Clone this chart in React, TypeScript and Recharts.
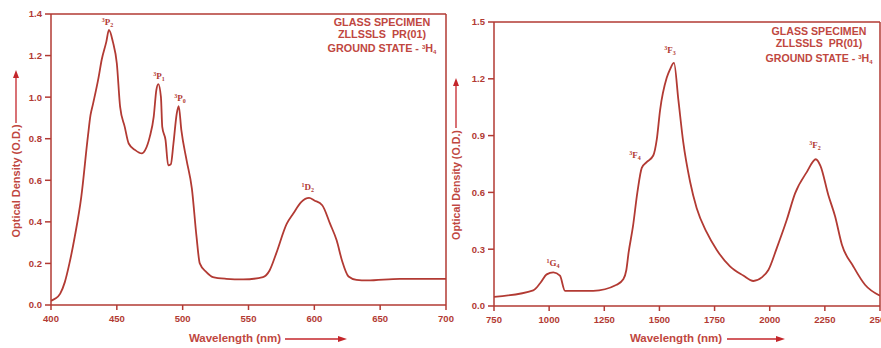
import React from 'react';
import { LineChart, Line, XAxis, YAxis, ReferenceLine, ReferenceDot } from 'recharts';

// visible region spectrum (nm, O.D.)
const visWavelength = [400, 403, 407, 410.5, 414, 418, 423, 428, 430, 432, 436, 438.5, 442, 444, 447, 450, 452.5, 456, 459, 464, 469, 471.5, 475, 478, 480, 481.5, 483.5, 484.5, 487, 489, 491, 493, 495.5, 497, 499, 503, 507, 510.5, 513, 518, 523, 533, 546, 561, 566, 571, 579, 584, 590, 596, 600, 606, 612, 617, 621, 626, 632, 640, 665, 700];
const visDensity = [0.02, 0.03, 0.055, 0.11, 0.2, 0.327, 0.52, 0.81, 0.913, 0.97, 1.09, 1.18, 1.266, 1.323, 1.266, 1.162, 0.953, 0.857, 0.777, 0.745, 0.729, 0.745, 0.809, 0.905, 1.034, 1.063, 1.0, 0.857, 0.793, 0.672, 0.677, 0.777, 0.921, 0.957, 0.841, 0.696, 0.56, 0.33, 0.2, 0.158, 0.134, 0.126, 0.123, 0.134, 0.166, 0.247, 0.39, 0.44, 0.495, 0.515, 0.503, 0.48, 0.39, 0.31, 0.214, 0.137, 0.121, 0.118, 0.126, 0.126];
const visTicksX = [400, 450, 500, 550, 600, 650, 700];
const visTicksY = [0, 0.2, 0.4, 0.6, 0.8, 1.0, 1.2, 1.4];
const visPeaks = [
  { sup: '3', term: 'P', sub: '2', wl: 443, od: 1.36 },
  { sup: '3', term: 'P', sub: '1', wl: 482, od: 1.1 },
  { sup: '3', term: 'P', sub: '0', wl: 498, od: 0.995 },
  { sup: '1', term: 'D', sub: '2', wl: 595, od: 0.566 },
];

// NIR region spectrum
const nirWavelength = [750, 928, 959, 989, 1019, 1049, 1072, 1200, 1306, 1336, 1350, 1360, 1380, 1400, 1420, 1442, 1472, 1488, 1503, 1533, 1548, 1566, 1586, 1608, 1639, 1669, 1714, 1760, 1820, 1880, 1926, 1964, 1994, 2032, 2077, 2115, 2168, 2209, 2230, 2266, 2296, 2327, 2379, 2432, 2500];
const nirDensity = [0.048, 0.083, 0.12, 0.167, 0.178, 0.16, 0.08, 0.08, 0.112, 0.141, 0.19, 0.28, 0.42, 0.6, 0.73, 0.76, 0.795, 0.88, 1.035, 1.205, 1.25, 1.284, 1.087, 0.865, 0.656, 0.516, 0.39, 0.296, 0.209, 0.161, 0.132, 0.151, 0.19, 0.306, 0.454, 0.595, 0.707, 0.775, 0.74, 0.585, 0.475, 0.325, 0.209, 0.112, 0.054];
const nirTicksX = [750, 1000, 1250, 1500, 1750, 2000, 2250, 2500];
const nirTicksY = [0, 0.3, 0.6, 0.9, 1.2, 1.5];
const nirPeaks = [
  { sup: '1', term: 'G', sub: '4', wl: 1017, od: 0.226 },
  { sup: '3', term: 'F', sub: '4', wl: 1389, od: 0.797 },
  { sup: '3', term: 'F', sub: '3', wl: 1548, od: 1.35 },
  { sup: '3', term: 'F', sub: '2', wl: 2205, od: 0.849 },
];

const specimen = ['GLASS SPECIMEN', 'ZLLSSLS  PR(01)', 'GROUND STATE - '];

const RED = '#b23a33';
const TEXT = '#c0473f';
const ARROW = '#c4262b';
const SANS = "Arial, 'Liberation Sans', sans-serif";
const SERIF = "'Times New Roman', 'Liberation Serif', serif";

const zip = (xs: number[], ys: number[]) => xs.map((wl, i) => ({ wl, od: ys[i] }));

const PeakLabel = ({ cx, cy, p }: any) => (
  <text x={cx} y={cy + 3} textAnchor="middle" fill={RED} fontFamily={SERIF} fontWeight="bold" fontSize={9}>
    <tspan fontSize={6} dy={-3}>{p.sup}</tspan>
    <tspan dy={3}>{p.term}</tspan>
    <tspan fontSize={6} dy={2}>{p.sub}</tspan>
  </text>
);

const tickStyle = { fill: RED, fontSize: 9.5, fontWeight: 'bold', fontFamily: SANS };

function Spectrum({ data, ticksX, ticksY, peaks, width, height, margin, yWidth }: any) {
  const xMin = ticksX[0];
  const xMax = ticksX[ticksX.length - 1];
  const yMax = ticksY[ticksY.length - 1];
  return (
    <LineChart width={width} height={height} data={data} margin={margin}>
      <XAxis
        type="number"
        dataKey="wl"
        domain={[xMin, xMax]}
        ticks={ticksX}
        interval={0}
        allowDataOverflow
        stroke={RED}
        strokeWidth={1.5}
        tick={tickStyle}
        tickSize={5}
        tickMargin={5}
        height={20}
      />
      <YAxis
        type="number"
        domain={[0, yMax]}
        ticks={ticksY}
        interval={0}
        stroke={RED}
        strokeWidth={1.5}
        tick={tickStyle}
        tickSize={6}
        tickMargin={3}
        tickFormatter={(v: number) => v.toFixed(1)}
        width={yWidth}
      />
      <ReferenceLine y={yMax} stroke={RED} strokeWidth={1.5} />
      <ReferenceLine x={xMax} stroke={RED} strokeWidth={1.5} />
      <Line
        type="monotone"
        dataKey="od"
        stroke={RED}
        strokeWidth={1.8}
        dot={false}
        isAnimationActive={false}
      />
      {peaks.map((p: any) => (
        <ReferenceDot key={p.term + p.sub} x={p.wl} y={p.od} r={0} shape={(props: any) => <PeakLabel {...props} p={p} />} />
      ))}
    </LineChart>
  );
}

function Overlay() {
  const yTitle = (x: number, cy: number, bottom: number, arrowTip: number, size: number) => (
    <g>
      <text x={x} y={cy} transform={`rotate(-90 ${x} ${cy})`} textAnchor="middle" dominantBaseline="central"
        fill={TEXT} fontFamily={SANS} fontWeight="bold" fontSize={size}>Optical Density (O.D.)</text>
      <line x1={x} y1={bottom} x2={x} y2={arrowTip + 6} stroke={ARROW} strokeWidth={1.3} />
      <polygon points={`${x - 3},${arrowTip + 8} ${x + 3},${arrowTip + 8} ${x},${arrowTip}`} fill={ARROW} />
    </g>
  );
  const xTitle = (cx: number, y: number, start: number, tip: number) => (
    <g>
      <text x={cx} y={y} textAnchor="middle" dominantBaseline="central" fill={TEXT} fontFamily={SANS} fontWeight="bold" fontSize={11.5}>Wavelength (nm)</text>
      <line x1={start} y1={y + 1} x2={tip - 6} y2={y + 1} stroke={ARROW} strokeWidth={1.3} />
      <polygon points={`${tip - 9},${y - 2} ${tip - 9},${y + 4} ${tip},${y + 1}`} fill={ARROW} />
    </g>
  );
  const specimenBlock = (cx: number, ys: number[], size: number) => (
    <g fill={TEXT} fontFamily={SANS} fontWeight="bold" fontSize={size} textAnchor="middle">
      <text x={cx} y={ys[0]}>{specimen[0]}</text>
      <text x={cx} y={ys[1]} style={{ whiteSpace: 'pre' }}>{specimen[1]}</text>
      <text x={cx} y={ys[2]}>
        {specimen[2]}
        <tspan fontSize={6} dy={-3}>3</tspan>
        <tspan dy={3}>H</tspan>
        <tspan fontSize={6} dy={2}>4</tspan>
      </text>
    </g>
  );
  return (
    <svg width={881} height={348} style={{ position: 'absolute', left: 0, top: 0, pointerEvents: 'none' }}>
      {yTitle(16, 181, 123, 70, 11)}
      {yTitle(456, 185, 128, 78, 10.7)}
      {xTitle(235, 338, 285, 347)}
      {xTitle(676, 338, 727, 785)}
      {specimenBlock(382, [26, 38, 52], 10.8)}
      {specimenBlock(819, [35, 47, 62], 10.6)}
    </svg>
  );
}

export default function App() {
  const visData = zip(visWavelength, visDensity);
  const nirData = zip(nirWavelength, nirDensity);
  return (
    <div style={{ position: 'absolute', left: 0, top: 0, width: 881, height: 348, background: '#fff', overflow: 'hidden' }}>
      <div style={{ position: 'absolute', left: 0, top: 0 }}>
        <Spectrum data={visData} ticksX={visTicksX} ticksY={visTicksY} peaks={visPeaks}
          width={460} height={348} margin={{ top: 14, right: 14, bottom: 23, left: 0 }} yWidth={51} />
      </div>
      <div style={{ position: 'absolute', left: 440, top: 0 }}>
        <Spectrum data={nirData} ticksX={nirTicksX} ticksY={nirTicksY} peaks={nirPeaks}
          width={441} height={348} margin={{ top: 22, right: 1, bottom: 22, left: 0 }} yWidth={54} />
      </div>
      <Overlay />
    </div>
  );
}
